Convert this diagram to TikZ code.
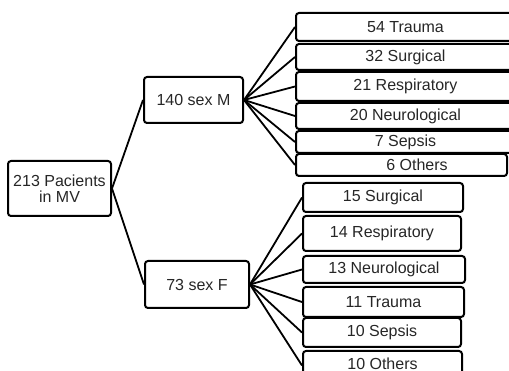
\documentclass[tikz,border=0pt]{standalone}
\usepackage{fontspec}
\setmainfont{Liberation Sans}
\begin{document}
\begin{tikzpicture}[x=1pt,y=-1pt,
  box/.style={draw=black,line width=2pt,rounded corners=3pt,inner sep=0pt,
    align=center,font=\fontsize{16}{16}\selectfont,text=black!85},
  link/.style={draw=black,line width=1.8pt}]
\useasboundingbox (0,0) rectangle (509,371);
\node[box,minimum width=103pt,minimum height=55pt] (root) at (59.5,188.5) {213 Pacients\\in MV};
\node[box,minimum width=99pt,minimum height=46pt] (m) at (193.5,100) {140 sex M};
\node[box,minimum width=104pt,minimum height=47pt] (f) at (197,284.5) {73 sex F};
% male children
\node[box,minimum width=219pt,minimum height=28pt] (m1) at (405.5,27) {54 Trauma};
\node[box,minimum width=219pt,minimum height=26pt] (m2) at (405.5,57) {32 Surgical};
\node[box,minimum width=219pt,minimum height=29pt] (m3) at (405.5,86.5) {21 Respiratory};
\node[box,minimum width=219pt,minimum height=26pt] (m4) at (405.5,116) {20 Neurological};
\node[box,minimum width=219pt,minimum height=22pt] (m5) at (405.5,142) {7 Sepsis};
\node[box,minimum width=211pt,minimum height=22pt] (m6) at (401.5,165) {\hspace*{31pt}6 Others};
% female children
\node[box,minimum width=160pt,minimum height=29pt] (f1) at (383,197.5) {15 Surgical};
\node[box,minimum width=158pt,minimum height=35pt] (f2) at (382,233.5) {14 Respiratory};
\node[box,minimum width=162pt,minimum height=27pt] (f3) at (384,269.5) {13 Neurological};
\node[box,minimum width=161pt,minimum height=30pt] (f4) at (383.5,302) {11 Trauma};
\node[box,minimum width=158pt,minimum height=29pt] (f5) at (382,332.5) {10 Sepsis};
\node[box,minimum width=159pt,minimum height=29pt] (f6) at (382.5,365.5) {\raisebox{3pt}{10 Others}};
% connectors
\draw[link] (root.east) -- (m.west);
\draw[link] (root.east) -- (f.west);
\foreach \c in {m1,m2,m3,m4,m5,m6} \draw[link] (m.east) -- (\c.west);
\foreach \c in {f1,f2,f3,f4,f5,f6} \draw[link] (f.east) -- (\c.west);
\end{tikzpicture}
\end{document}
